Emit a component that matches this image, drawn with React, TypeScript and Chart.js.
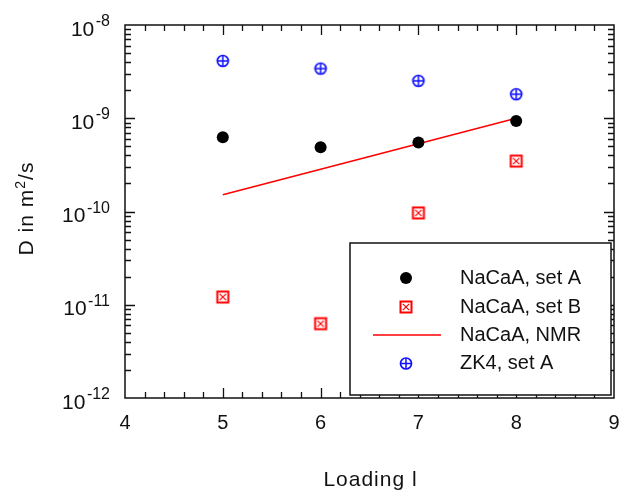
import React, { useEffect, useRef } from "react";
import { Chart, registerables } from "chart.js";

Chart.register(...registerables);

// ---- data ----
const loadings = [5, 6, 7, 8];
const nacaaSetA = [6.24e-10, 4.88e-10, 5.5e-10, 9.33e-10];
const nacaaSetB = [1.21e-11, 6.27e-12, 9.66e-11, 3.47e-10];
const zk4SetA = [4.12e-9, 3.41e-9, 2.52e-9, 1.81e-9];
const nmrLoadings = [5, 8];
const nmrValues = [1.51e-10, 1.0e-9];
const seriesLabels = ["NaCaA, set A", "NaCaA, set B", "NaCaA, NMR", "ZK4, set A"];
const xTickValues = [4, 5, 6, 7, 8, 9];
const yExponents = [-8, -9, -10, -11, -12];
const xTitle = "Loading l";
const yTitleParts = ["D in m", "2", "/s"];

const FONT = '"Liberation Sans", Arial, Helvetica, sans-serif';
const RED = "#ff0000";
const BLUE = "#1010ff";
const INK = "#111111";

function drawBoxX(ctx: CanvasRenderingContext2D, cx: number, cy: number) {
  ctx.save();
  ctx.strokeStyle = RED;
  ctx.lineWidth = 2;
  ctx.strokeRect(cx - 5.5, cy - 5.5, 11, 11);
  ctx.lineWidth = 1.2;
  ctx.beginPath();
  ctx.moveTo(cx - 3.2, cy - 3.2);
  ctx.lineTo(cx + 3.2, cy + 3.2);
  ctx.moveTo(cx + 3.2, cy - 3.2);
  ctx.lineTo(cx - 3.2, cy + 3.2);
  ctx.stroke();
  ctx.restore();
}

function drawCirclePlus(ctx: CanvasRenderingContext2D, cx: number, cy: number) {
  ctx.save();
  ctx.strokeStyle = BLUE;
  ctx.lineWidth = 1.7;
  ctx.beginPath();
  ctx.arc(cx, cy, 5.5, 0, Math.PI * 2);
  ctx.stroke();
  ctx.lineWidth = 1.5;
  ctx.beginPath();
  ctx.moveTo(cx - 5.5, cy);
  ctx.lineTo(cx + 5.5, cy);
  ctx.moveTo(cx, cy - 5.5);
  ctx.lineTo(cx, cy + 5.5);
  ctx.stroke();
  ctx.restore();
}

function drawDot(ctx: CanvasRenderingContext2D, cx: number, cy: number) {
  ctx.save();
  ctx.fillStyle = "#000";
  ctx.beginPath();
  ctx.arc(cx, cy, 6, 0, Math.PI * 2);
  ctx.fill();
  ctx.restore();
}

function makeSymbol(draw: (c: CanvasRenderingContext2D, x: number, y: number) => void) {
  const c = document.createElement("canvas");
  c.width = 16;
  c.height = 16;
  const g = c.getContext("2d")!;
  draw(g, 8, 8);
  return c;
}

const framePlugin = {
  id: "frameAndLabels",
  beforeDatasetsDraw(chart: any) {
    const { ctx, chartArea: ca, scales } = chart;
    const xs = scales.x;
    const ys = scales.y;
    ctx.save();
    ctx.strokeStyle = INK;
    ctx.lineWidth = 1.5;
    ctx.strokeRect(ca.left, ca.top, ca.right - ca.left, ca.bottom - ca.top);
    ctx.lineWidth = 1.3;
    ctx.beginPath();
    for (let i = 1; i < 25; i++) {
      const v = 4 + i * 0.2;
      const px = Math.round(xs.getPixelForValue(v)) + 0.5;
      const len = i % 5 === 0 ? 10 : 6;
      ctx.moveTo(px, ca.bottom);
      ctx.lineTo(px, ca.bottom - len);
      ctx.moveTo(px, ca.top);
      ctx.lineTo(px, ca.top + len);
    }
    for (let e = -12; e < -8; e++) {
      for (let m = 1; m <= 9; m++) {
        if (e === -12 && m === 1) continue;
        const v = m * Math.pow(10, e);
        const py = Math.round(ys.getPixelForValue(v)) + 0.5;
        const len = m === 1 ? 10 : 6;
        ctx.moveTo(ca.left, py);
        ctx.lineTo(ca.left + len, py);
        ctx.moveTo(ca.right, py);
        ctx.lineTo(ca.right - len, py);
      }
    }
    ctx.stroke();
    ctx.restore();
  },
  afterDraw(chart: any) {
    const { ctx, chartArea: ca, scales } = chart;
    const xs = scales.x;
    const ys = scales.y;
    ctx.save();
    ctx.fillStyle = INK;
    ctx.font = `20px ${FONT}`;
    ctx.textAlign = "center";
    ctx.textBaseline = "alphabetic";
    xTickValues.forEach((v) => {
      ctx.fillText(String(v), xs.getPixelForValue(v), ca.bottom + 31);
    });
    const rightEdge = ca.left - 15;
    yExponents.forEach((e) => {
      const py = ys.getPixelForValue(Math.pow(10, e));
      const sup = String(e);
      ctx.font = `16px ${FONT}`;
      ctx.textAlign = "left";
      const supW = ctx.measureText(sup).width;
      ctx.fillText(sup, rightEdge - supW, py + 1);
      ctx.font = `21px ${FONT}`;
      ctx.textAlign = "right";
      ctx.fillText("10", rightEdge - supW - 1.5, py + 10.5);
    });
    ctx.font = `21px ${FONT}`;
    (ctx as any).letterSpacing = "1px";
    ctx.textAlign = "center";
    ctx.fillText(xTitle, (ca.left + ca.right) / 2 + 1, 486);
    ctx.save();
    ctx.translate(33, (ca.top + ca.bottom) / 2 - 3);
    ctx.rotate(-Math.PI / 2);
    ctx.textAlign = "left";
    ctx.font = `21px ${FONT}`;
    const w0 = ctx.measureText(yTitleParts[0]).width;
    const w2 = ctx.measureText(yTitleParts[2]).width;
    ctx.font = `14px ${FONT}`;
    const w1 = ctx.measureText(yTitleParts[1]).width;
    let x = -(w0 + w1 + w2) / 2;
    ctx.font = `21px ${FONT}`;
    ctx.fillText(yTitleParts[0], x, 0);
    x += w0;
    ctx.font = `14px ${FONT}`;
    ctx.fillText(yTitleParts[1], x, -8);
    x += w1;
    ctx.font = `21px ${FONT}`;
    ctx.fillText(yTitleParts[2], x, 0);
    ctx.restore();
    (ctx as any).letterSpacing = "0px";

    const bl = ca.right - 264;
    const bt = ca.bottom - 155;
    const br = ca.right - 3;
    const bb = ca.bottom - 3;
    ctx.fillStyle = "#fff";
    ctx.fillRect(bl, bt, br - bl, bb - bt);
    ctx.strokeStyle = INK;
    ctx.lineWidth = 1.5;
    ctx.strokeRect(bl, bt, br - bl, bb - bt);
    const rows = [35, 64, 92, 120.5];
    const mx = bl + 56;
    ctx.font = `20px ${FONT}`;
    ctx.textAlign = "left";
    ctx.textBaseline = "middle";
    seriesLabels.forEach((label, i) => {
      const ry = bt + rows[i];
      if (i === 0) drawDot(ctx, mx, ry);
      if (i === 1) drawBoxX(ctx, mx, ry);
      if (i === 2) {
        ctx.save();
        ctx.strokeStyle = RED;
        ctx.lineWidth = 1.5;
        ctx.beginPath();
        ctx.moveTo(bl + 23, ry);
        ctx.lineTo(bl + 91, ry);
        ctx.stroke();
        ctx.restore();
      }
      if (i === 3) drawCirclePlus(ctx, mx, ry);
      ctx.fillStyle = INK;
      ctx.fillText(label, bl + 110, ry);
    });
    ctx.restore();
  },
};

export default function App() {
  const ref = useRef<HTMLCanvasElement | null>(null);
  useEffect(() => {
    if (!ref.current) return;
    const symB = makeSymbol(drawBoxX);
    const symZ = makeSymbol(drawCirclePlus);
    const chart = new Chart(ref.current, {
      type: "scatter",
      data: {
        datasets: [
          {
            label: seriesLabels[0],
            data: loadings.map((x, i) => ({ x, y: nacaaSetA[i] })),
            pointStyle: "circle",
            pointRadius: 6,
            backgroundColor: "#000",
            borderColor: "#000",
            borderWidth: 0,
          },
          {
            label: seriesLabels[1],
            data: loadings.map((x, i) => ({ x, y: nacaaSetB[i] })),
            pointStyle: symB as any,
            pointRadius: 6,
          },
          {
            label: seriesLabels[2],
            data: nmrLoadings.map((x, i) => ({ x, y: nmrValues[i] })),
            showLine: true,
            borderColor: RED,
            borderWidth: 1.5,
            pointRadius: 0,
            fill: false,
          },
          {
            label: seriesLabels[3],
            data: loadings.map((x, i) => ({ x, y: zk4SetA[i] })),
            pointStyle: symZ as any,
            pointRadius: 6,
          },
        ],
      },
      options: {
        animation: false,
        responsive: false,
        events: [],
        layout: { padding: { left: 125, top: 25, right: 5, bottom: 92 } },
        scales: {
          x: { type: "linear", min: 4, max: 9, display: false },
          y: { type: "logarithmic", min: 1e-12, max: 1e-8, display: false },
        },
        plugins: {
          legend: { display: false },
          tooltip: { enabled: false },
        },
      },
      plugins: [framePlugin],
    });
    return () => chart.destroy();
  }, []);
  return (
    <div style={{ position: "absolute", left: 0, top: 0, width: 621, height: 490, background: "#fff" }}>
      <canvas ref={ref} width={621} height={490} style={{ width: 621, height: 490, display: "block" }} />
    </div>
  );
}
